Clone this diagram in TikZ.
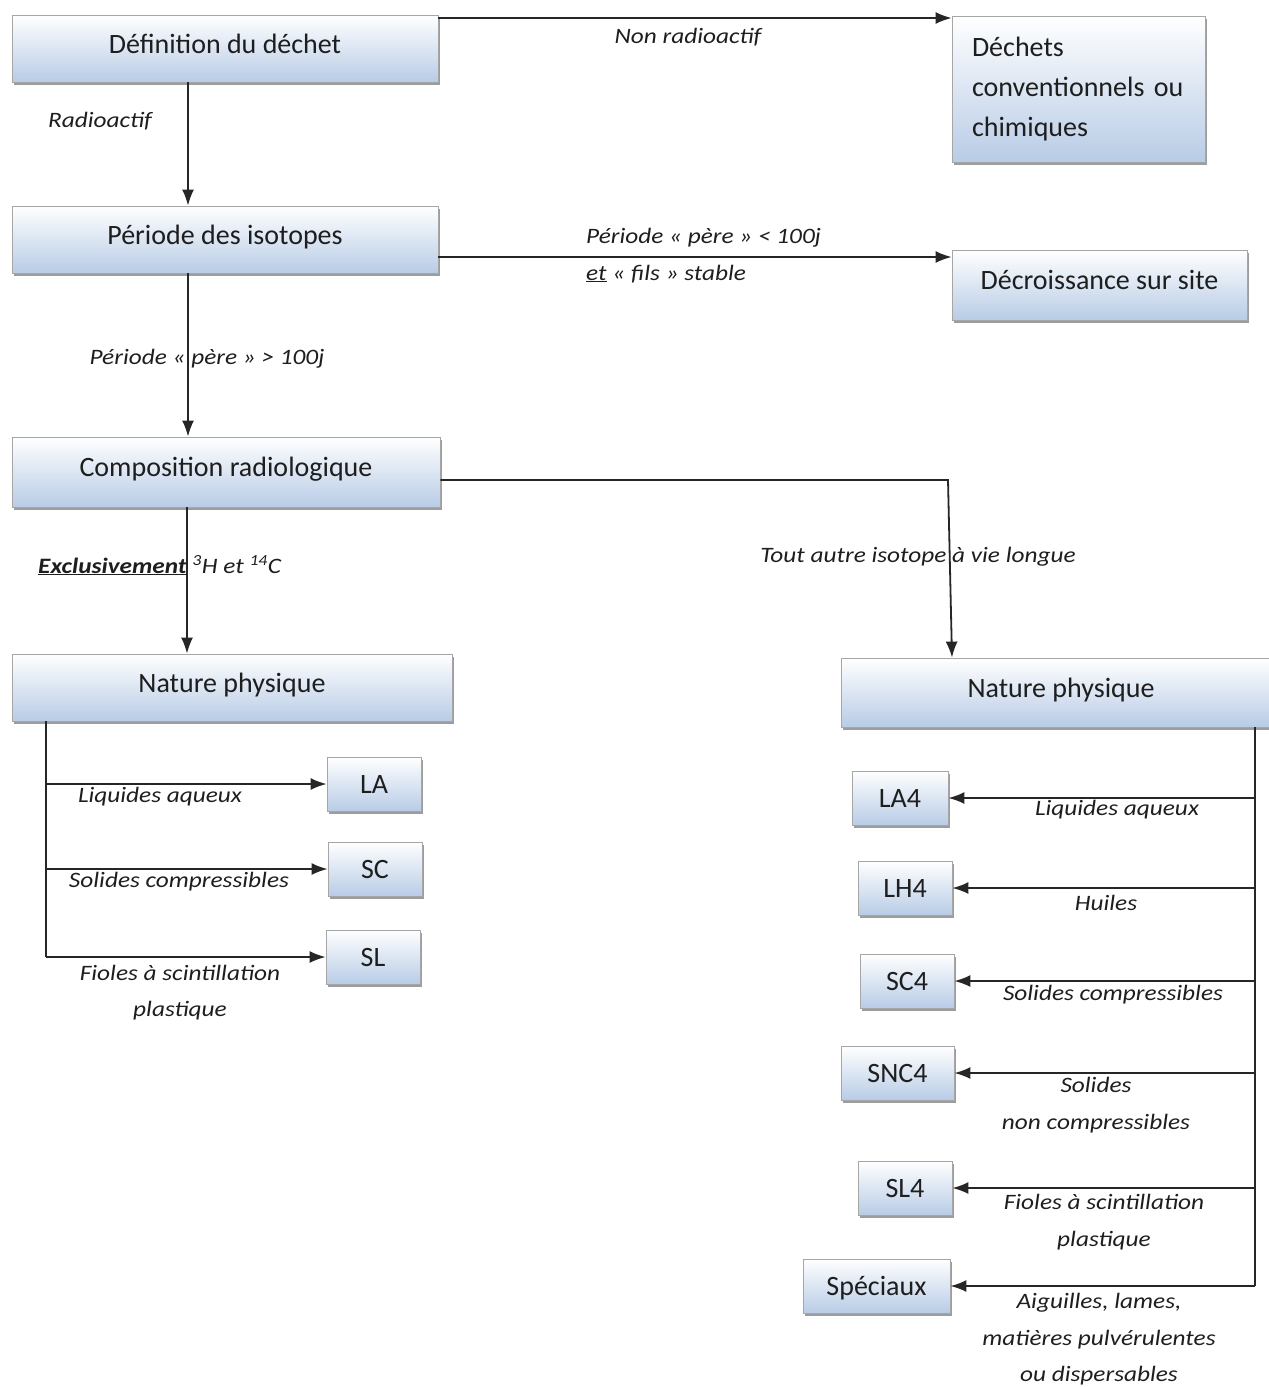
\documentclass[tikz,border=0pt]{standalone}
\usepackage{fontspec}
\setmainfont{Carlito}
\newfontfamily\etiqfont[FakeStretch=1.15]{Carlito}
\usetikzlibrary{arrows.meta,shadows}

\definecolor{bleu}{RGB}{184,204,230}
\definecolor{encre}{RGB}{30,30,30}

\tikzset{
	boite/.style={draw=gray!70, line width=0.8pt, top color=white, bottom color=bleu, text=encre,
		drop shadow={shadow xshift=1.5pt, shadow yshift=-3pt, fill=black!55, opacity=0.7},
		font=\fontsize{28}{40}\selectfont},
	grande/.style={boite, minimum width=426pt, minimum height=67pt, text height=20pt, text depth=11pt},
	petite/.style={boite, minimum width=94pt, minimum height=54pt, text height=18pt, text depth=0pt},
	etiq/.style={font=\etiqfont\fontsize{22}{37}\selectfont\itshape, text=encre, anchor=base, inner sep=0pt},
	fleche/.style={line width=1.8pt, draw=black!85, -{Latex[length=16pt,width=12pt]}},
	trait/.style={line width=1.8pt, draw=black!85},
}

\begin{document}
\begin{tikzpicture}[x=1pt, y=-1pt]
			%%%%% START %%%%%
			\useasboundingbox (0,0) rectangle (1269,1387);
			
			\node[grande] (def) at (225,48.5) {Définition du déchet};
			\node[boite, text width=213pt, inner xsep=20pt, minimum height=146pt, align=left] (dechets) at (1078.5,89) {Déchets\\conventionnels ou\\chimiques};
			
			\node[grande] (periode) at (225,239.5) {Période des isotopes};
			\node[boite, minimum width=295pt, minimum height=70pt, text height=20pt, text depth=11pt] (decroiss) at (1099.5,285) {Décroissance sur site};
			
			\node[grande, minimum width=428pt, minimum height=70pt] (compo) at (226,472) {Composition radiologique};
			
			\node[grande, minimum width=440pt] (natL) at (232,687.5) {Nature physique};
			\node[grande, minimum width=440pt, minimum height=69pt] (natR) at (1061,692.5) {Nature physique};
			
			% dechets 3H / 14C
			\node[petite] (la) at (374,784) {LA};
			\node[petite] (sc) at (375,869) {SC};
			\node[petite] (sl) at (373,957) {SL};
			
			% autres isotopes
			\node[petite, minimum width=96pt] (la4) at (900,798) {LA4};
			\node[petite] (lh4) at (905,888) {LH4};
			\node[petite] (sc4) at (907,981) {SC4};
			\node[petite, minimum width=113pt] (snc4) at (897.5,1073) {SNC4};
			\node[petite] (sl4) at (905,1188) {SL4};
			\node[petite, minimum width=147pt] (spec) at (876.5,1286) {Spéciaux};
			
			% fleches principales
			\draw[fleche] (def.east |- 0,18) -- (dechets.west |- 0,18);
			\draw[fleche] (188,0 |- def.south) -- (188,0 |- periode.north);
			\draw[fleche] (periode.east |- 0,257) -- (decroiss.west |- 0,257);
			\draw[fleche] (188,0 |- periode.south) -- (188,0 |- compo.north);
			\draw[fleche] (187,0 |- compo.south) -- (187,0 |- natL.north);
			\coordinate (coude) at (948,480);
			\draw[fleche] (compo.east |- coude) -- (coude) -- (952,0 |- natR.north);
			
			\node[etiq] (lnon) at (688,43) {Non radioactif};
			\node[etiq] (lrad) at (100,127) {Radioactif};
			\node[etiq, anchor=base west] (lcourt) at (586,243) {Période « père » < 100j};
			\node[etiq, anchor=base west] (lcourt2) at (586,280) {\underline{et} « fils » stable};
			\node[etiq] (llong) at (207,364) {Période « père » > 100j};
			\node[etiq, anchor=base west] (lexcl) at (38,573) {\textbf{\underline{Exclusivement}} \textsuperscript{3}H et \textsuperscript{14}C};
			\node[etiq] (lautre) at (918,562) {Tout autre isotope à vie longue};
			
			% arbre gauche
			\coordinate (troncL) at (46,957);
			\draw[trait] (natL.south -| troncL) -- (troncL);
			\draw[fleche] (la.west -| troncL) -- (la.west);
			\draw[fleche] (sc.west -| troncL) -- (sc.west);
			\draw[fleche] (troncL) -- (sl.west);
			
			\node[etiq] (lla) at (160,802) {Liquides aqueux};
			\node[etiq] (lsc) at (179,887) {Solides compressibles};
			\node[etiq] (lsl) at (180,980) {Fioles à scintillation};
			\node[etiq] (lsl2) at (180,1016) {plastique};
			
			% arbre droit
			\coordinate (troncR) at (1255,1286);
			\draw[trait] (natR.south -| troncR) -- (troncR);
			\draw[fleche] (la4.east -| troncR) -- (la4.east);
			\draw[fleche] (lh4.east -| troncR) -- (lh4.east);
			\draw[fleche] (sc4.east -| troncR) -- (sc4.east);
			\draw[fleche] (snc4.east -| troncR) -- (snc4.east);
			\draw[fleche] (sl4.east -| troncR) -- (sl4.east);
			\draw[fleche] (troncR) -- (spec.east);
			
			\node[etiq] (lla4) at (1117,815) {Liquides aqueux};
			\node[etiq] (lh) at (1106,910) {Huiles};
			\node[etiq] (lsc4) at (1113,1000) {Solides compressibles};
			\node[etiq] (lsnc) at (1096,1092) {Solides};
			\node[etiq] (lsnc2) at (1096,1129) {non compressibles};
			\node[etiq] (lsl4) at (1104,1209) {Fioles à scintillation};
			\node[etiq] (lsl42) at (1104,1246) {plastique};
			\node[etiq] (lspec) at (1099,1308) {Aiguilles, lames,};
			\node[etiq] (lspec2) at (1099,1345) {matières pulvérulentes};
			\node[etiq] (lspec3) at (1099,1381) {ou dispersables};
			
			%%%%% END %%%%%
\end{tikzpicture}
\end{document}
